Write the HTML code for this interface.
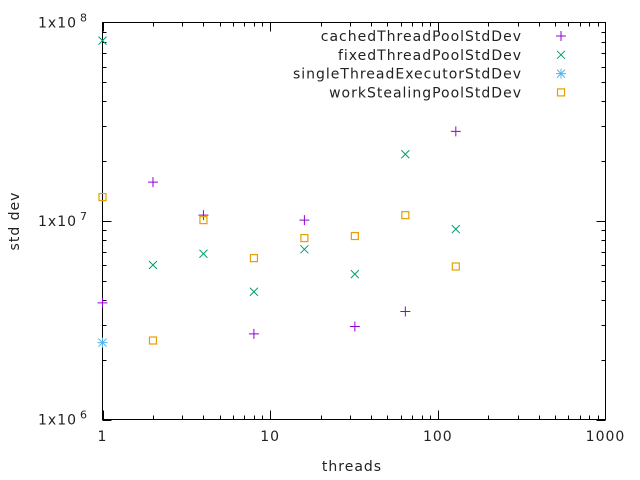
<!DOCTYPE html>
<html><head><meta charset="utf-8"><style>
html,body{margin:0;padding:0;background:#fff;}
svg{display:block;font-family:"DejaVu Sans","Liberation Sans",sans-serif;letter-spacing:1px;}
</style></head><body>
<svg id="chart" width="640" height="480" viewBox="0 0 640 480" xmlns="http://www.w3.org/2000/svg">
<rect x="102.5" y="22.5" width="503" height="397" fill="none" stroke="#000" stroke-width="1"/>
<g id="ticks"></g>
<g id="labels" font-size="14" fill="#222"></g>
<text x="352" y="471" font-size="14" text-anchor="middle" fill="#222">threads</text>
<text transform="translate(19,221) rotate(-90)" font-size="14" text-anchor="middle" fill="#222">std dev</text>
<g id="legend" font-size="14" fill="#222"></g>
<g id="marks"></g>
</svg>
<script>
const threads=[1,2,4,8,16,32,64,128];
const cachedVals=[3.87e6,1.57e7,1.07e7,2.7e6,1.01e7,2.94e6,3.5e6,2.83e7];
const fixedVals=[8.1e7,6.0e6,6.84e6,4.4e6,7.2e6,5.4e6,2.17e7,9.1e6];
const singleThreads=[1];
const singleVals=[2.44e6];
const workVals=[1.32e7,2.5e6,1.01e7,6.5e6,8.2e6,8.4e6,1.07e7,5.9e6];
const xTickVals=[1,10,100,1000];
const xTickLabels=["1","10","100","1000"];
const yTickVals=[1e6,1e7,1e8];
const yTickExps=["6","7","8"];
const seriesNames=["cachedThreadPoolStdDev","fixedThreadPoolStdDev","singleThreadExecutorStdDev","workStealingPoolStdDev"];

const L=102.5,R=605.5,T=22.5,B=419.5;
const xs=v=>L+(Math.log10(v)-0)/3*(R-L);
const ys=v=>B-(Math.log10(v)-6)/2*(B-T);
const NS="http://www.w3.org/2000/svg";
function mk(tag,attrs,parent){const e=document.createElementNS(NS,tag);for(const k in attrs)e.setAttribute(k,attrs[k]);parent.appendChild(e);return e;}
const tk=document.getElementById('ticks'),lb=document.getElementById('labels'),mg=document.getElementById('marks'),lg=document.getElementById('legend');
function tick(x1,y1,x2,y2){const l=mk('line',{x1,y1,x2,y2,stroke:'#000','stroke-width':1},tk);}
for(let d=0;d<3;d++){for(let m=1;m<=9;m++){const v=Math.pow(10,d)*m;const x=Math.round(xs(v))+0.5;const len=m===1?9:4;tick(x,B,x,B-len);tick(x,T,x,T+len);}}
tick(R,B,R,B-9);tick(R,T,R,T+9);
xTickVals.forEach((v,i)=>{const t=mk('text',{x:xs(v),y:441,'text-anchor':'middle'},lb);t.textContent=xTickLabels[i];});
for(let d=6;d<8;d++){for(let m=1;m<=9;m++){const v=Math.pow(10,d)*m;const y=Math.round(ys(v))+0.5;const len=m===1?9:4;tick(L,y,L+len,y);tick(R,y,R-len,y);}}
tick(L,T,L+9,T);tick(R,T,R-9,T);
yTickVals.forEach((v,i)=>{const y=ys(v);const t=mk('text',{x:38,y:y+5},lb);t.textContent='1x10';const s=mk('text',{x:80,y:y-1,'font-size':11},lb);s.textContent=yTickExps[i];});
function plus(x,y,c,g){mk('path',{d:`M${x-5},${y}h10M${x},${y-5}v10`,stroke:c,'stroke-width':1,fill:'none'},g);}
function cross(x,y,c,g){mk('path',{d:`M${x-4},${y-4}l8,8M${x-4},${y+4}l8,-8`,stroke:c,'stroke-width':1,fill:'none'},g);}
function star(x,y,c,g){plus(x,y,c,g);cross(x,y,c,g);}
function sq(x,y,c,g){mk('rect',{x:x-3.5,y:y-3.5,width:7,height:7,stroke:c,'stroke-width':1.2,fill:'none'},g);}
const series=[[threads,cachedVals,plus,'#9400d3'],[threads,fixedVals,cross,'#009e73'],[singleThreads,singleVals,star,'#56b4e9'],[threads,workVals,sq,'#e69f00']];
series.forEach(([xv,yv,fn,c],si)=>{
  const g=mk('g',{},mg);
  yv.forEach((v,i)=>fn(xs(xv[i]),ys(v),c,g));
  const ly=36+si*18.8;
  const t=mk('text',{x:522,y:ly+5,'text-anchor':'end'},lg);t.textContent=seriesNames[si];
  const lgm=mk('g',{},lg);
  fn(561,ly,c,lgm);
});
</script>
</body></html>
